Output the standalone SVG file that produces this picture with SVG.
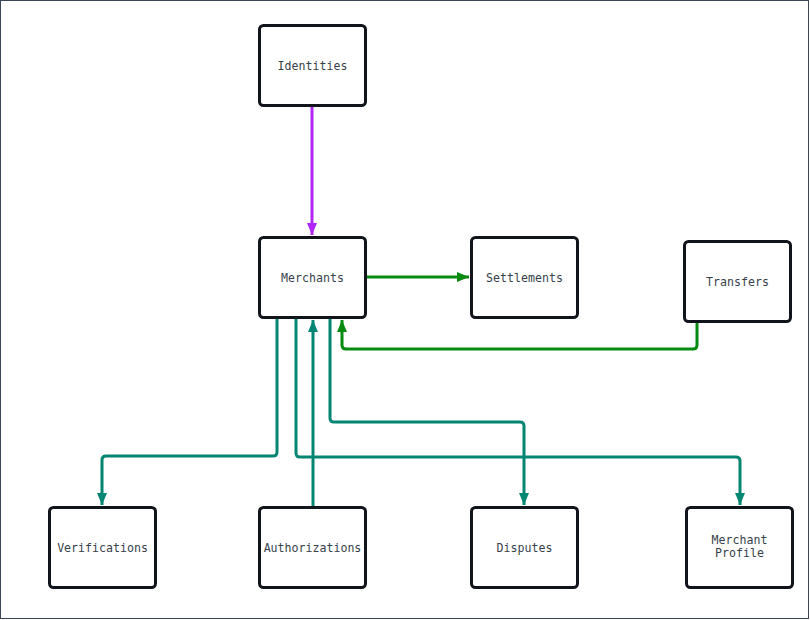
<svg xmlns="http://www.w3.org/2000/svg" width="810" height="620" viewBox="0 0 810 620">
<style>
.node rect{fill:#ffffff;stroke:#11151b;stroke-width:3}
.node text{font-family:"DejaVu Sans Mono","Liberation Mono",monospace;font-size:11.6px;fill:#363f4a;text-anchor:middle}
.c{fill:none;stroke-width:3;stroke-linejoin:round}
.purple{stroke:#b125f5}
.green{stroke:#078a10}
.teal{stroke:#058672}
</style>
<defs>
<marker id="aP" viewBox="0 0 12 10" refX="12" refY="5" markerWidth="12" markerHeight="10" markerUnits="userSpaceOnUse" orient="auto"><path d="M0,0 L12,5 L0,10 z" fill="#b125f5"/></marker>
<marker id="aG" viewBox="0 0 12 10" refX="12" refY="5" markerWidth="12" markerHeight="10" markerUnits="userSpaceOnUse" orient="auto"><path d="M0,0 L12,5 L0,10 z" fill="#078a10"/></marker>
<marker id="aT" viewBox="0 0 12 10" refX="12" refY="5" markerWidth="12" markerHeight="10" markerUnits="userSpaceOnUse" orient="auto"><path d="M0,0 L12,5 L0,10 z" fill="#058672"/></marker>
</defs>
<rect x="0.5" y="0.5" width="808" height="618" fill="#ffffff" stroke="#3a4556" stroke-width="1"/>
<g id="connectors">
<path class="c purple" d="M312,106 V235" marker-end="url(#aP)"/>
<path class="c green" d="M366,277 H469" marker-end="url(#aG)"/>
<path class="c green" d="M697,322 V345 Q697,349 693,349 H346 Q342,349 342,345 V320" marker-end="url(#aG)"/>
<path class="c teal" d="M277,318 V452 Q277,456 273,456 H106 Q102,456 102,460 V505" marker-end="url(#aT)"/>
<path class="c teal" d="M296,318 V453 Q296,457 300,457 H736 Q740,457 740,461 V505" marker-end="url(#aT)"/>
<path class="c teal" d="M313,507 V320" marker-end="url(#aT)"/>
<path class="c teal" d="M330,318 V418 Q330,422 334,422 H520 Q524,422 524,426 V505" marker-end="url(#aT)"/>
</g>
<g id="identities" class="node"><rect x="259.5" y="25.5" width="106" height="80" rx="4"/><text x="312.5" y="70">Identities</text></g>
<g id="merchants" class="node"><rect x="259.5" y="237.5" width="106" height="80" rx="4"/><text x="312.5" y="282">Merchants</text></g>
<g id="settlements" class="node"><rect x="471.5" y="237.5" width="106" height="80" rx="4"/><text x="524.5" y="282">Settlements</text></g>
<g id="transfers" class="node"><rect x="684.5" y="241.5" width="106" height="80" rx="4"/><text x="737.5" y="286">Transfers</text></g>
<g id="verifications" class="node"><rect x="49.5" y="507.5" width="106" height="80" rx="4"/><text x="102.5" y="552">Verifications</text></g>
<g id="authorizations" class="node"><rect x="259.5" y="507.5" width="106" height="80" rx="4"/><text x="312.5" y="552">Authorizations</text></g>
<g id="disputes" class="node"><rect x="471.5" y="507.5" width="106" height="80" rx="4"/><text x="524.5" y="552">Disputes</text></g>
<g id="merchant-profile" class="node"><rect x="686.5" y="507.5" width="106" height="80" rx="4"/><text x="739.5" y="544">Merchant</text><text x="739.5" y="557">Profile</text></g>
</svg>
